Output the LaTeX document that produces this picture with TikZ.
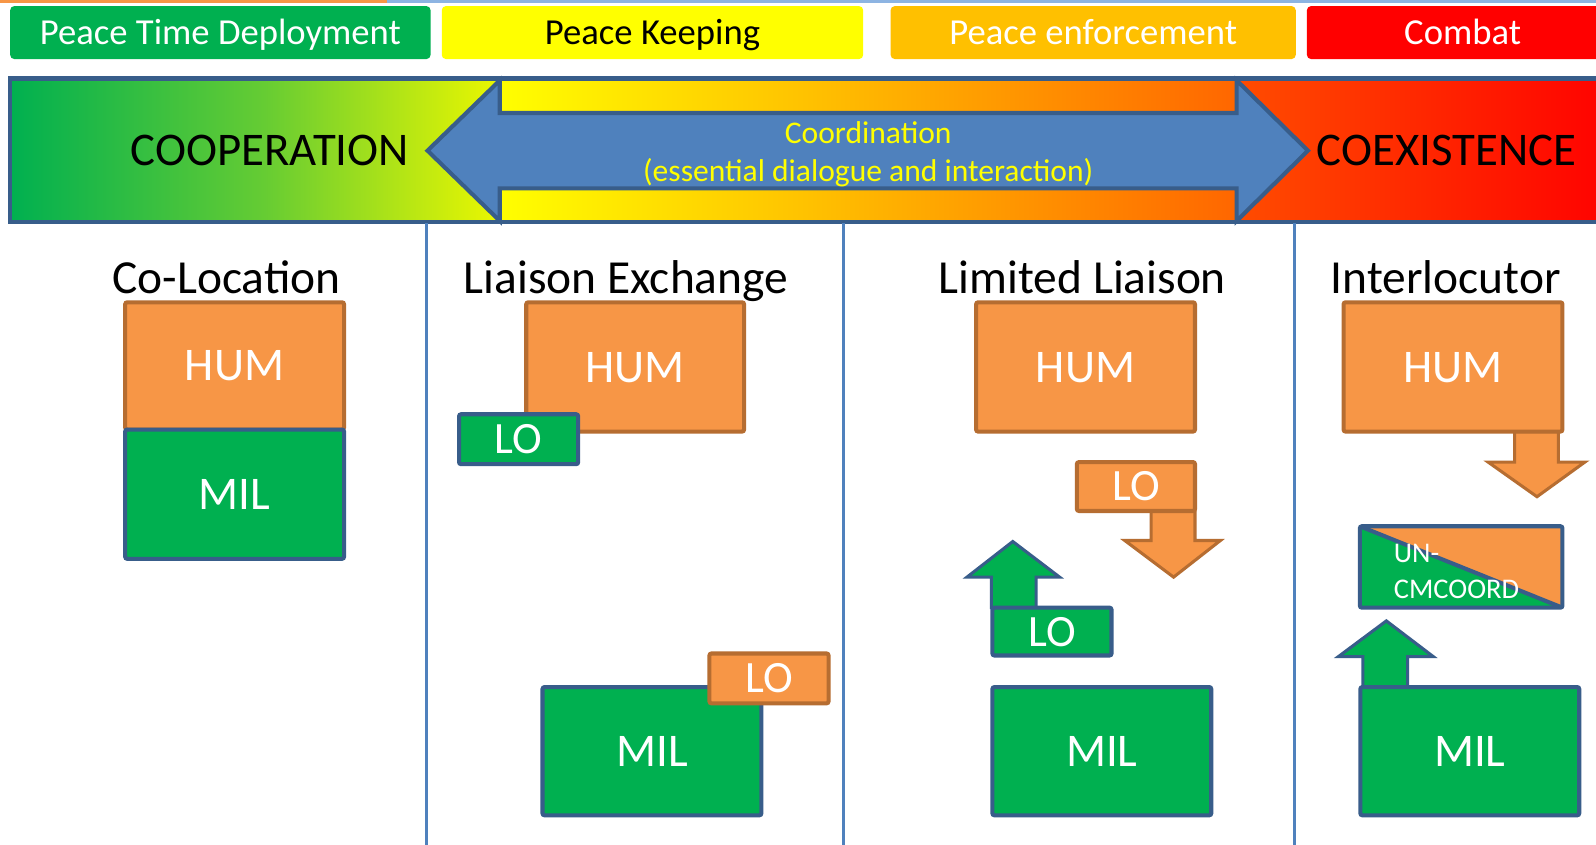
\documentclass[tikz,border=0pt]{standalone}
\usepackage{fontspec}
\setmainfont{Carlito}
\definecolor{milfill}{HTML}{00B050}
\definecolor{miledge}{HTML}{385D8A}
\definecolor{humfill}{HTML}{F79646}
\definecolor{humedge}{HTML}{B66D31}
\definecolor{arrfill}{HTML}{4F81BD}
\definecolor{divcol}{HTML}{4F81BD}
\definecolor{topblue}{HTML}{8DB4E2}
\definecolor{pkyellow}{HTML}{FFFF00}
\definecolor{peorange}{HTML}{FFC000}
\definecolor{cbred}{HTML}{FF0000}
\definecolor{coordtext}{HTML}{FFFF00}
\begin{document}
\begin{tikzpicture}[x=0.5pt,y=-0.5pt,
  capc/.style={inner sep=0pt, text height=#1, text depth=0pt},
  toplabel/.style={capc=11.6pt, rounded corners=2pt, minimum height=26pt, font=\fontsize{18}{22}\selectfont},
  bigword/.style={capc=14.8pt, font=\fontsize{23}{28}\selectfont, text=black},
  heading/.style={capc=15pt, font=\fontsize{23.3}{28}\selectfont, text=black},
  coordline/.style={capc=10pt, font=\fontsize{15.5}{19}\selectfont, text=coordtext},
  humbox/.style={capc=14.8pt, draw=humedge, fill=humfill, line width=2pt, rounded corners=1pt, text=white, font=\fontsize{23}{28}\selectfont},
  milbox/.style={capc=14.8pt, draw=miledge, fill=milfill, line width=2pt, rounded corners=1pt, text=white, font=\fontsize{23}{28}\selectfont},
  bigbox/.style={minimum width=107.5pt, minimum height=63pt},
  lobox/.style={capc=14.2pt, minimum width=58.5pt, minimum height=24.5pt, font=\fontsize{22}{26}\selectfont},
  humarrow/.style={draw=humedge, fill=humfill, line width=1.5pt, line join=miter},
  milarrow/.style={draw=miledge, fill=milfill, line width=1.5pt, line join=miter},
  divider/.style={draw=divcol, line width=1.5pt},
  smalltext/.style={inner sep=0pt, text=white, font=\fontsize{14}{17}\selectfont}
]
\useasboundingbox (0,0) rectangle (1568,830);
\fill[white] (0,0) rectangle (1568,830);
% thin top line
\fill[humfill] (0,0) rectangle (380,2.5);
\fill[topblue] (380,0) rectangle (1568,2.5);

% phase labels
\node[toplabel, fill=milfill, text=white, minimum width=206.5pt] (ptd) at (216.5,32) {Peace Time Deployment};
\node[toplabel, fill=pkyellow, text=black, minimum width=207pt] (pk) at (641,32) {Peace Keeping};
\node[toplabel, fill=peorange, text=white, minimum width=199pt] (pe) at (1074,32) {Peace enforcement};
\node[toplabel, fill=cbred, text=white, minimum width=153pt] (cb) at (1437,32) {Combat};

% gradient band
\shade[left color=milfill, right color={rgb,255:red,102;green,204;blue,51}] (10,77) rectangle (260.5,218);
\shade[left color={rgb,255:red,102;green,204;blue,51}, right color={rgb,255:red,235;green,247;blue,0}] (260,77) rectangle (491,218);
\shade[left color=pkyellow, right color=peorange] (490,77) rectangle (800.5,218);
\shade[left color=peorange, right color={rgb,255:red,255;green,102;blue,0}] (800,77) rectangle (1216,218);
\shade[left color={rgb,255:red,255;green,76;blue,0}, right color=cbred] (1215,77) rectangle (1590,218);
\draw[miledge, line width=2.2pt] (10,77) rectangle (1590,218);

% double arrow
\draw[draw=miledge, fill=arrfill, line width=2pt, line join=miter]
  (420,148) -- (491,79) -- (491,111) -- (1215,111) -- (1215,79) -- (1285,148)
  -- (1215,217) -- (1215,185) -- (491,185) -- (491,217) -- cycle;
\node[coordline] (coord1) at (853,130.5) {Coordination};
\node[coordline] (coord2) at (853,168) {(essential dialogue and interaction)};
\node[bigword] (coop) at (265,148) {COOPERATION};
\node[bigword] (coex) at (1421,148) {COEXISTENCE};

% dividers
\draw[divider] (419,219) -- (419,832);
\draw[divider] (829,219) -- (829,832);
\draw[divider] (1272,219) -- (1272,832);

% headings
\node[heading] (h1) at (222.5,273) {Co-Location};
\node[heading] (h2) at (615,273) {Liaison Exchange};
\node[heading] (h3) at (1063.5,273) {Limited Liaison};
\node[heading] (h4) at (1420.5,273) {Interlocutor};

% column 1
\node[humbox, minimum width=107.5pt, minimum height=62.5pt] (hum1) at (230.5,359.5) {HUM};
\node[milbox, minimum width=107.5pt, minimum height=63.5pt] (mil1) at (230.5,485.5) {MIL};

% column 2
\node[humbox, minimum width=107pt, minimum height=63.5pt] (hum2) at (624,360.5) {HUM};
\node[milbox, lobox] (lo2a) at (509.5,431.5) {LO};
\node[milbox, bigbox] (mil2) at (640.5,738) {MIL};
\node[humbox, lobox] (lo2b) at (755.5,666.5) {LO};

% column 3
\draw[humarrow] (1131,502) -- (1131,531) -- (1105,531) -- (1153,567) -- (1199,531) -- (1174,531) -- (1174,502) -- cycle;
\draw[milarrow] (974,597) -- (974,567) -- (950,567) -- (995,532) -- (1041,567) -- (1018,567) -- (1018,597) -- cycle;
\node[humbox, minimum width=107.5pt, minimum height=63.5pt] (hum3) at (1066.5,360.5) {HUM};
\node[humbox, lobox, minimum width=58pt, minimum height=24pt] (lo3a) at (1116,478) {LO};
\node[milbox, lobox, minimum height=23.5pt] (lo3b) at (1033.5,620.5) {LO};
\node[milbox, bigbox] (mil3) at (1082.5,738) {MIL};

% column 4
\draw[humarrow] (1488,424) -- (1488,454) -- (1462,454) -- (1510,488) -- (1557,454) -- (1531,454) -- (1531,424) -- cycle;
\draw[milarrow] (1339,675) -- (1339,645) -- (1315,645) -- (1362,610) -- (1408,645) -- (1383,645) -- (1383,675) -- cycle;
\node[humbox, minimum width=107.5pt, minimum height=63.5pt] (hum4) at (1427.5,360.5) {HUM};
\node[draw=miledge, fill=milfill, line width=2pt, rounded corners=1pt, inner sep=0pt,
  minimum width=99.5pt, minimum height=40pt,
  path picture={
    \fill[humfill] (path picture bounding box.north west) -- (path picture bounding box.north east) -- (path picture bounding box.south east) -- cycle;
    \draw[miledge, line width=2pt] (path picture bounding box.north west) -- (path picture bounding box.south east);
  }] (uncm) at (1435.5,557) {};
\node[smalltext, anchor=base west] (uncm1) at (1369,553) {UN-};
\node[smalltext, anchor=base west] (uncm2) at (1369,588) {CMCOORD};
\node[milbox, bigbox] (mil4) at (1444,738) {MIL};
\end{tikzpicture}
\end{document}
